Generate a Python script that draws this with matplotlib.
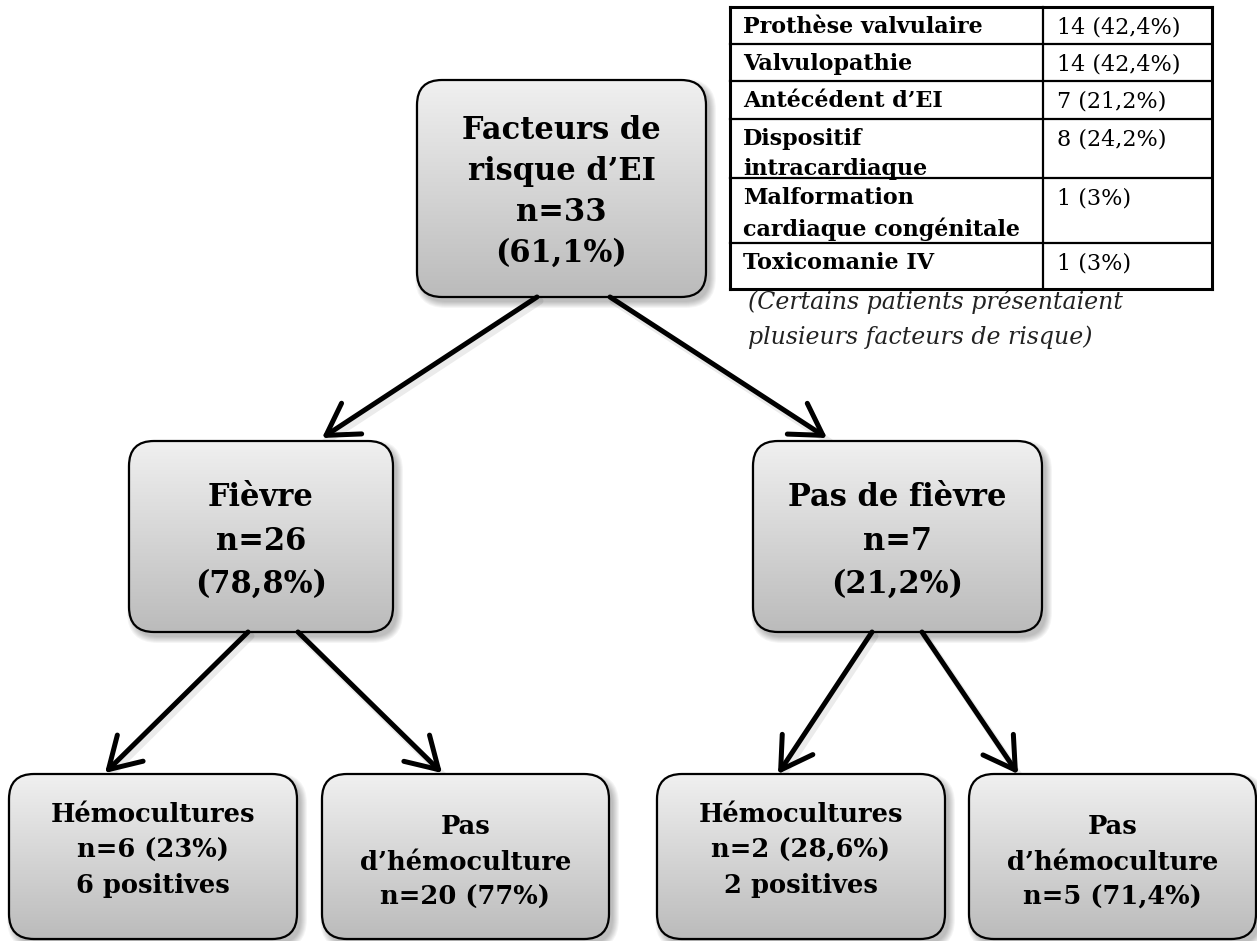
import numpy as np
import matplotlib
matplotlib.use("Agg")
import matplotlib.pyplot as plt
from matplotlib.patches import FancyBboxPatch, Rectangle
from matplotlib.colors import LinearSegmentedColormap

# %% donnees
titres = ["Facteurs de\nrisque d’EI", "Fièvre", "Pas de fièvre",
          "Hémocultures", "Pas\nd’hémoculture", "Hémocultures", "Pas\nd’hémoculture"]
effectifs = [33, 26, 7, 6, 20, 2, 5]
pourcents = ["61,1%", "78,8%", "21,2%", "23%", "77%", "28,6%", "71,4%"]
positives = [None, None, None, 6, None, 2, None]

facteurs = ["Prothèse valvulaire", "Valvulopathie", "Antécédent d’EI",
            "Dispositif\nintracardiaque", "Malformation\ncardiaque congénitale",
            "Toxicomanie IV"]
fact_n = [14, 14, 7, 8, 1, 1]
fact_pct = ["42,4%", "42,4%", "21,2%", "24,2%", "3%", "3%"]
note = "(Certains patients présentaient\nplusieurs facteurs de risque)"

# %% mise en page (pixels)
boites = [(417, 80, 706, 297), (129, 441, 393, 632), (753, 441, 1042, 632),
          (9, 774, 297, 939), (322, 774, 609, 939), (657, 774, 945, 939),
          (969, 774, 1256, 939)]
texte_y = [192, 541, 541, 850, 862, 850, 862]
fleches = [((537, 297), (322, 438)), ((610, 297), (827, 438)),
           ((248, 632), (105, 773)), ((298, 632), (442, 773)),
           ((872, 632), (778, 774)), ((922, 632), (1018, 774))]
col_x = [730, 1043, 1212]
row_y = [7, 44, 81, 119, 178, 243, 289]

police = "DejaVu Serif"
grad = LinearSegmentedColormap.from_list("g", ["#f0f0f0", "#bbbbbb"])

fig = plt.figure(figsize=(12.57, 9.41), dpi=100)
ax = fig.add_axes([0, 0, 1, 1])
ax.set_xlim(0, 1257)
ax.set_ylim(941, 0)
ax.axis("off")


def boite(x0, y0, x1, y1):
    # ombre floue
    for k in range(7):
        s = FancyBboxPatch((x0 + 4 - k, y0 + 5 - k), x1 - x0 + 2 * k, y1 - y0 + 2 * k,
                           boxstyle="round,pad=0,rounding_size=%d" % (25 + k),
                           fc="black", ec="none", alpha=0.04, zorder=1)
        ax.add_patch(s)
    p = FancyBboxPatch((x0, y0), x1 - x0, y1 - y0,
                       boxstyle="round,pad=0,rounding_size=25",
                       fc="none", ec="black", lw=1.6, zorder=4)
    ax.add_patch(p)
    im = ax.imshow(np.linspace(0, 1, 256).reshape(-1, 1), cmap=grad, aspect="auto",
                   extent=(x0, x1, y1, y0), origin="upper", zorder=3)
    im.set_clip_path(p)


for i, (x0, y0, x1, y1) in enumerate(boites):
    boite(x0, y0, x1, y1)
    if i == 0:
        txt = "%s\nn=%d\n(%s)" % (titres[i], effectifs[i], pourcents[i])
        fs, ls = 22, 1.42
    elif i < 3:
        txt = "%s\nn=%d\n(%s)" % (titres[i], effectifs[i], pourcents[i])
        fs, ls = 22, 1.5
    else:
        txt = "%s\nn=%d (%s)" % (titres[i], effectifs[i], pourcents[i])
        if positives[i]:
            txt += "\n%d positives" % positives[i]
        fs, ls = 18.5, 1.5
    ax.text((x0 + x1) / 2, texte_y[i], txt, ha="center", va="center",
            fontsize=fs, fontweight="bold", family=police, linespacing=ls, zorder=5)

for (a, b) in fleches:
    ax.annotate("", xy=b, xytext=a, zorder=6,
                arrowprops=dict(arrowstyle="->,head_length=0.55,head_width=0.33",
                                lw=3.6, color="black", mutation_scale=40,
                                shrinkA=0, shrinkB=0, capstyle="round",
                                joinstyle="round"))
    ax.annotate("", xy=(b[0] + 3, b[1] + 4), xytext=(a[0] + 3, a[1] + 4), zorder=2,
                arrowprops=dict(arrowstyle="-", lw=5, color="black", alpha=0.08,
                                shrinkA=0, shrinkB=0))

# %% tableau
for i in range(len(facteurs)):
    cellule = Rectangle((col_x[0], row_y[i]), col_x[1] - col_x[0], row_y[i + 1] - row_y[i],
                        transform=ax.transData, fc="none", ec="none")
    t = ax.text(col_x[0] + 13, row_y[i] + 9, facteurs[i], ha="left", va="top",
                fontsize=16, fontweight="bold", family=police, linespacing=1.47, zorder=5)
    t.set_clip_path(cellule)
    ax.text(col_x[1] + 14, row_y[i] + 9, "%d (%s)" % (fact_n[i], fact_pct[i]),
            ha="left", va="top", fontsize=16, family=police, zorder=5)

for j, y in enumerate(row_y):
    ax.plot([col_x[0], col_x[2]], [y, y], color="black",
            lw=2.2 if j in (0, len(row_y) - 1) else 1.6, zorder=7)
for j, x in enumerate(col_x):
    ax.plot([x, x], [row_y[0], row_y[-1]], color="black",
            lw=2.2 if j != 1 else 1.6, zorder=7)

ax.text(748, 319, note, ha="left", va="center", fontsize=17, style="italic",
        family=police, color="#222222", linespacing=1.62, zorder=5)

fig.savefig("out.png", dpi=100)
